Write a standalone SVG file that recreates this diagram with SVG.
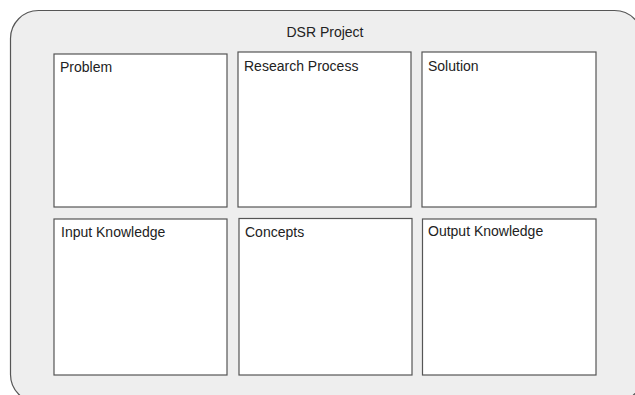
<svg xmlns="http://www.w3.org/2000/svg" width="635" height="395" viewBox="0 0 635 395">
<style>
.outer{fill:#eeeeee;stroke:#555555;stroke-width:1.2}
.box{fill:#ffffff;stroke:#555555;stroke-width:1.2}
text{font-family:"Liberation Sans",Arial,sans-serif;font-size:14px;fill:#222222}
</style>
<rect width="635" height="395" fill="#ffffff"/>
<g id="dsr-project">
<rect class="outer" x="10.5" y="10.5" width="632" height="392" rx="28" ry="28"/>
<text x="325" y="37" text-anchor="middle">DSR Project</text>
</g>
<g id="problem">
<rect class="box" x="54" y="54" width="173" height="153"/>
<text x="60" y="72">Problem</text>
</g>
<g id="research-process">
<rect class="box" x="238" y="52" width="173" height="155"/>
<text x="244" y="71">Research Process</text>
</g>
<g id="solution">
<rect class="box" x="422" y="52" width="174" height="155"/>
<text x="428" y="71">Solution</text>
</g>
<g id="input-knowledge">
<rect class="box" x="54" y="219" width="173" height="156"/>
<text x="61" y="237">Input Knowledge</text>
</g>
<g id="concepts">
<rect class="box" x="239" y="218.5" width="173" height="156.5"/>
<text x="245" y="237">Concepts</text>
</g>
<g id="output-knowledge">
<rect class="box" x="422.5" y="219" width="173.5" height="156"/>
<text x="428" y="236">Output Knowledge</text>
</g>
<g id="connectors"></g>
</svg>
